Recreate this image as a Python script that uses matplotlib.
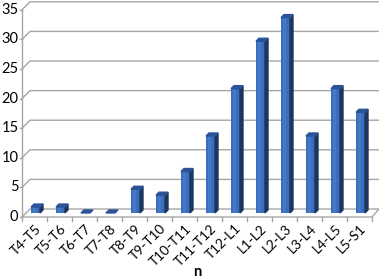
import matplotlib
matplotlib.use("Agg")
import matplotlib.pyplot as plt
from matplotlib.patches import Polygon

plt.rcParams['font.family'] = ['Lato', 'DejaVu Sans']

# Data
levels = ["T4-T5", "T5-T6", "T6-T7", "T7-T8", "T8-T9", "T9-T10", "T10-T11",
          "T11-T12", "T12-L1", "L1-L2", "L2-L3", "L3-L4", "L4-L5", "L5-S1"]
counts = [1, 1, 0, 0, 4, 3, 7, 13, 21, 29, 33, 13, 21, 17]
yticks = [0, 5, 10, 15, 20, 25, 30, 35]

# pseudo-3d geometry (data units)
n_cat = len(levels)
depth_x, depth_y = 0.32, 1.35      # back wall offset
side_x, side_y = 0.12, 0.51        # bar depth
bar_left, bar_w, bar_base = 0.36, 0.36, 0.68
xmax = n_cat + 0.28

face_col = "#3b6dbd"
side_col = "#1d365f"
top_col = "#2b5498"
grid_col = "#a6a6a6"

fig = plt.figure(figsize=(3.79, 2.79), dpi=100)
ax = fig.add_axes([22 / 379, 62 / 279, 357 / 379, 217 / 279])
ax.set_xlim(0, xmax)
ax.set_ylim(0, 217 / 5.92)
ax.axis("off")

# gridlines on the back wall + left axis
for t in yticks:
    ax.plot([0, depth_x, xmax], [t, t + depth_y, t + depth_y], color=grid_col, lw=1, clip_on=False)
    ax.plot([-0.1, 0], [t, t], color=grid_col, lw=1, clip_on=False)
    ax.text(-0.14, t, str(t), ha="right", va="center", fontsize=10.5, clip_on=False)
ax.plot([0, 0], [0, yticks[-1]], color=grid_col, lw=1, clip_on=False)

# floor
ax.plot([0, n_cat, xmax], [0, 0, depth_y], color=grid_col, lw=1, clip_on=False)
for i in range(n_cat + 1):
    ax.plot([i, i], [0, -0.7], color=grid_col, lw=1, clip_on=False)

# bars
xs = [i + bar_left for i in range(n_cat)]
ax.bar(xs, counts, width=bar_w, bottom=bar_base, align="edge", color=face_col, zorder=3)
# lighter stripe to hint at the gradient on the front face
ax.bar([x + bar_w * 0.25 for x in xs], counts, width=bar_w * 0.35, bottom=bar_base,
       align="edge", color="#4678c8", zorder=3)
for x0, v in zip(xs, counts):
    y0 = bar_base
    side = [(x0 + bar_w, y0), (x0 + bar_w + side_x, y0 + side_y),
            (x0 + bar_w + side_x, y0 + v + side_y), (x0 + bar_w, y0 + v)]
    top = [(x0, y0 + v), (x0 + side_x, y0 + v + side_y),
           (x0 + bar_w + side_x, y0 + v + side_y), (x0 + bar_w, y0 + v)]
    if v > 0:
        ax.add_patch(Polygon(side, closed=True, color=side_col, zorder=3))
    ax.add_patch(Polygon(top, closed=True, color=top_col, zorder=4))

# category labels
for i, lab in enumerate(levels):
    ax.text(i + 0.52, -0.9, lab, rotation=45, rotation_mode="anchor",
            ha="right", va="top", fontsize=9.8, clip_on=False)

fig.text(197 / 379, 1 - 276 / 279, "n", ha="center", va="baseline",
         fontsize=10.5, fontweight="bold")

fig.savefig("out.png", dpi=100)
